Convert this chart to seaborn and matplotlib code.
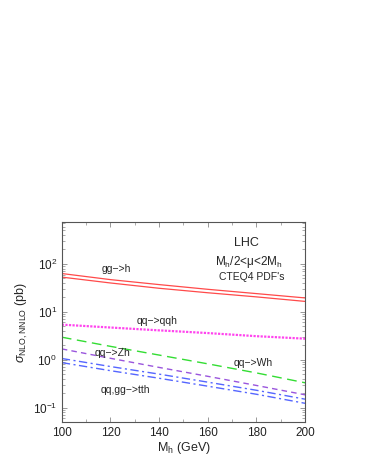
import numpy as np
import pandas as pd
import matplotlib
matplotlib.use("Agg")
import matplotlib.pyplot as plt
from matplotlib.ticker import LogLocator, MultipleLocator, NullFormatter
import seaborn as sns

sns.set_theme(style="white")
plt.rcParams['font.family'] = ['Liberation Sans', 'DejaVu Sans']
plt.rcParams['mathtext.fontset'] = 'custom'
plt.rcParams['mathtext.rm'] = 'Liberation Sans'
plt.rcParams['mathtext.it'] = 'Liberation Sans:italic'
plt.rcParams['mathtext.sf'] = 'Liberation Sans'

mh = [100, 120, 140, 160, 180, 200]
gg_h_hi = [63, 47, 37, 29.5, 24, 19.5]
gg_h_lo = [53, 40, 31, 25, 20.5, 16.5]
qq_qqh = [5.4, 4.7, 4.1, 3.6, 3.1, 2.75]
qq_wh = [2.95, 1.9, 1.25, 0.82, 0.53, 0.33]
qq_zh = [1.68, 1.07, 0.69, 0.45, 0.29, 0.185]
tth_hi = [1.06, 0.72, 0.5, 0.34, 0.23, 0.15]
tth_lo = [0.87, 0.59, 0.41, 0.28, 0.19, 0.123]

fig = plt.figure(figsize=(3.68, 4.76), dpi=100)
ax = fig.add_axes([0.168, 0.1134, 0.661, 0.4202])

red = '#ff4a4a'
sns.lineplot(x=mh, y=gg_h_hi, ax=ax, color=red, lw=0.9)
sns.lineplot(x=mh, y=gg_h_lo, ax=ax, color=red, lw=0.9)
sns.lineplot(x=mh, y=qq_qqh, ax=ax, color='#ff44ee', lw=1.6, linestyle=(0, (1, 0.6)))
sns.lineplot(x=mh, y=qq_wh, ax=ax, color='#33dd33', lw=1.0, linestyle=(0, (7, 4)))
sns.lineplot(x=mh, y=qq_zh, ax=ax, color='#9a55dd', lw=1.0, linestyle=(0, (4, 3)))
sns.lineplot(x=mh, y=tth_hi, ax=ax, color='#5566ff', lw=1.0, linestyle=(0, (6, 2.5, 1.5, 2.5)))
sns.lineplot(x=mh, y=tth_lo, ax=ax, color='#5566ff', lw=1.0, linestyle=(0, (6, 2.5, 1.5, 2.5)))

ax.set_yscale('log')
ax.set_xlim(100, 200)
ax.set_ylim(0.05, 750)
ax.xaxis.set_major_locator(MultipleLocator(20))
ax.xaxis.set_minor_locator(MultipleLocator(10))
ax.yaxis.set_major_locator(LogLocator(base=10, numticks=10))
ax.yaxis.set_minor_locator(LogLocator(base=10, subs=np.arange(2, 10), numticks=20))
ax.yaxis.set_minor_formatter(NullFormatter())
ax.tick_params(which='both', direction='in', top=True, right=True, bottom=True, left=True,
               labelsize=8.5, colors='#222222')
ax.tick_params(which='major', length=3.5, width=0.6, color='#888888')
ax.tick_params(which='minor', length=2, width=0.5, color='#888888')
for s in ax.spines.values():
    s.set_color('#555555')
    s.set_linewidth(0.8)

ax.set_xlabel(r'M$_{\rm h}$ (GeV)', fontsize=9, labelpad=1)
ax.set_ylabel(r'$\sigma_{\rm NLO,NNLO}$ (pb)', fontsize=9, labelpad=2)

fs = 7.5
ax.text(122.6, 77, 'gg\u2212>h', ha='center', va='center', fontsize=fs)
ax.text(139, 6.3, 'qq\u2212>qqh', ha='center', va='center', fontsize=fs)
ax.text(121, 1.4, 'qq\u2212>Zh', ha='center', va='center', fontsize=fs)
ax.text(178.6, 0.85, 'qq\u2212>Wh', ha='center', va='center', fontsize=fs)
ax.text(126, 0.23, 'qq,gg\u2212>tth', ha='center', va='center', fontsize=fs)
ax.text(176, 275, 'LHC', ha='center', va='center', fontsize=9)
ax.text(176.7, 110, r'M$_{\rm h}$/2<\u03bc<2M$_{\rm h}$'.replace('\\u03bc', '\u03bc'), ha='center', va='center', fontsize=8.5)
ax.text(178, 53, "CTEQ4 PDF's", ha='center', va='center', fontsize=7.5)

fig.savefig('out.png', dpi=100, facecolor='white')
